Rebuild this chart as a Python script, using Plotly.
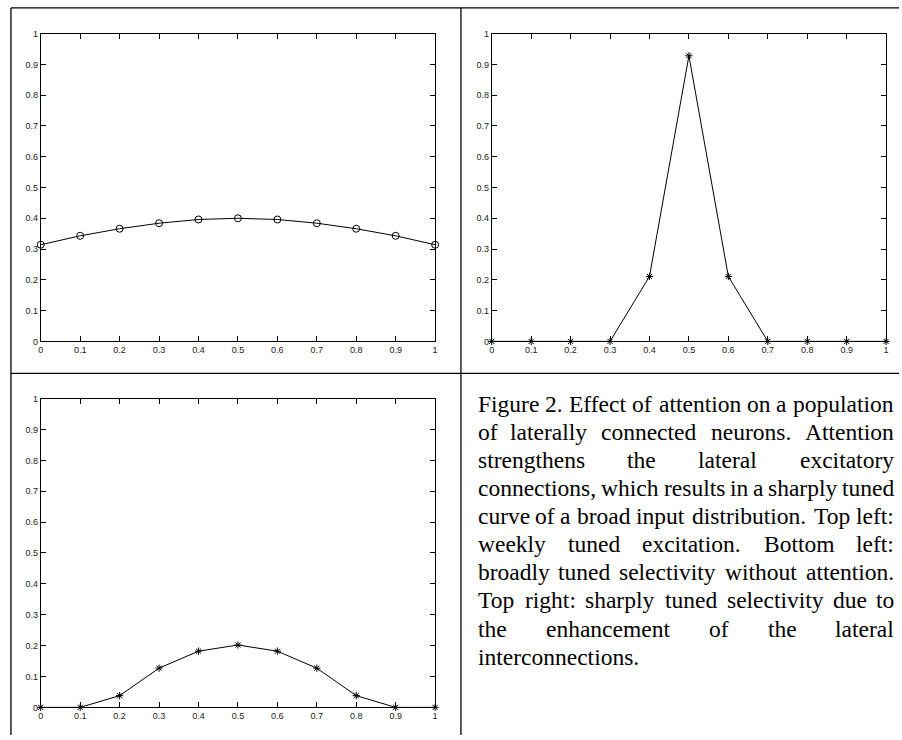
import plotly.graph_objects as go

# ---------------- data ----------------
x_vals = [0, 0.1, 0.2, 0.3, 0.4, 0.5, 0.6, 0.7, 0.8, 0.9, 1.0]
top_left = [0.314, 0.343, 0.366, 0.384, 0.396, 0.400, 0.396, 0.384, 0.366, 0.343, 0.314]
top_right = [0, 0, 0, 0, 0.211, 0.928, 0.211, 0, 0, 0, 0]
bottom_left = [0, 0, 0.038, 0.127, 0.182, 0.202, 0.182, 0.127, 0.038, 0, 0]
tick_vals = [0, 0.1, 0.2, 0.3, 0.4, 0.5, 0.6, 0.7, 0.8, 0.9, 1.0]
tick_text = ["0", "0.1", "0.2", "0.3", "0.4", "0.5", "0.6", "0.7", "0.8", "0.9", "1"]

caption_lines = [
    "Figure 2. Effect of attention on a population",
    "of laterally connected neurons. Attention",
    "strengthens the lateral excitatory",
    "connections, which results in a sharply tuned",
    "curve of a broad input distribution. Top left:",
    "weekly tuned excitation. Bottom left:",
    "broadly tuned selectivity without attention.",
    "Top right: sharply tuned selectivity due to",
    "the enhancement of the lateral",
    "interconnections.",
]

W, H = 902, 740


def px(x):
    return x / W


def py(y):
    return 1 - y / H


fig = go.Figure()

panels = [
    (top_left, "circle-open", 7, (38, 435), (29, 341)),
    (top_right, "asterisk-open", 6, (492, 889), (29, 341)),
    (bottom_left, "asterisk-open", 6, (38, 435), (399, 712)),
]

axis_common = dict(
    range=[0, 1], tickvals=tick_vals, ticktext=tick_text, ticks="inside",
    ticklen=5, tickwidth=1, tickcolor="black", showline=True, linecolor="black",
    linewidth=1, mirror="ticks", showgrid=False, zeroline=False,
    tickfont=dict(family="Liberation Sans, Arial, sans-serif", size=9, color="#222"),
    fixedrange=True,
)

for i, (vals, sym, size, (x0, x1), (y0, y1)) in enumerate(panels):
    suffix = "" if i == 0 else str(i + 1)
    fig.add_trace(go.Scatter(
        x=x_vals, y=vals, mode="lines+markers",
        line=dict(color="black", width=1),
        marker=dict(symbol=sym, size=size, color="black",
                    line=dict(color="black", width=1)),
        xaxis="x" + suffix, yaxis="y" + suffix, cliponaxis=False,
        showlegend=False, hoverinfo="skip",
    ))
    fig.update_layout(**{
        "xaxis" + suffix: dict(axis_common, domain=[px(x0), px(x1)], anchor="y" + suffix),
        "yaxis" + suffix: dict(axis_common, domain=[py(y1), py(y0)], anchor="x" + suffix),
    })

# ---------------- table borders ----------------
line_style = dict(color="black", width=1.3)
shapes = [
    dict(type="line", xref="paper", yref="paper", x0=px(8), x1=px(W), y0=py(3), y1=py(3), line=line_style),
    dict(type="line", xref="paper", yref="paper", x0=px(8), x1=px(W), y0=py(373.5), y1=py(373.5), line=line_style),
    dict(type="line", xref="paper", yref="paper", x0=px(8), x1=px(8), y0=py(3), y1=py(H), line=line_style),
    dict(type="line", xref="paper", yref="paper", x0=px(461), x1=px(461), y0=py(3), y1=py(H), line=line_style),
]

# ---------------- caption (justified) ----------------
widths = {
    " ": 250, "a": 444, "b": 500, "c": 444, "d": 500, "e": 444, "f": 333, "g": 500,
    "h": 500, "i": 278, "j": 278, "k": 500, "l": 278, "m": 778, "n": 500, "o": 500,
    "p": 500, "q": 500, "r": 333, "s": 389, "t": 278, "u": 500, "v": 500, "w": 722,
    "x": 500, "y": 500, "z": 444, "A": 722, "B": 667, "E": 611, "F": 556, "T": 611,
    ".": 250, ",": 250, ":": 278, "2": 500,
}
fsize = 23.5
left, right = 477, 898
base0, step = 412, 28.5
cap_font = dict(family="Liberation Serif, Times New Roman, serif", size=fsize, color="black")


def wwidth(word):
    return sum(widths.get(c, 500) for c in word) / 1000 * fsize * 1.025


def add_text(x, ymid, text, anchor):
    annotations.append(dict(x=px(x), y=py(ymid), xref="paper", yref="paper",
                            text=text, showarrow=False, xanchor=anchor, yanchor="middle",
                            font=cap_font, borderpad=0))


annotations = []
for li, line in enumerate(caption_lines):
    ymid = base0 + li * step - 0.3375 * fsize
    words = line.split(" ")
    if li == len(caption_lines) - 1 or len(words) == 1:
        add_text(left, ymid, line, "left")
        continue
    total = sum(wwidth(w) for w in words)
    gap = (right - left - total) / (len(words) - 1)
    xpos = left
    for wi, w in enumerate(words):
        ww = wwidth(w)
        if wi == 0:
            add_text(left, ymid, w, "left")
        elif wi == len(words) - 1:
            add_text(right, ymid, w, "right")
        else:
            add_text(xpos + ww / 2, ymid, w, "center")
        xpos += ww + gap

fig.update_layout(
    width=W, height=H, margin=dict(l=0, r=0, t=0, b=0),
    paper_bgcolor="white", plot_bgcolor="white",
    shapes=shapes, annotations=annotations,
)

fig.write_html(
    "out.html",
    config={"displayModeBar": False},
    post_script="document.body.style.margin='0px';document.documentElement.style.overflow='hidden';document.body.style.overflow='hidden';",
)
